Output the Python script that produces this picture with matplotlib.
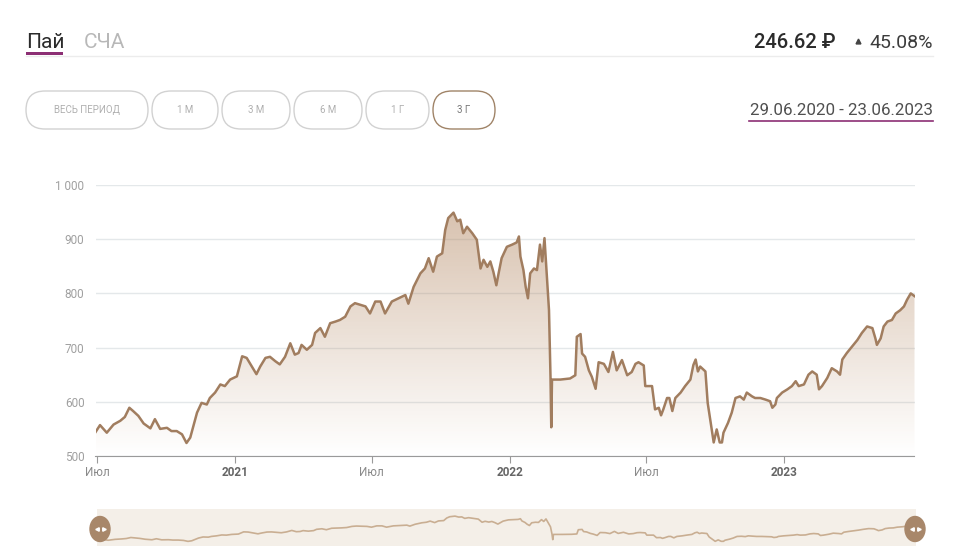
import numpy as np
import matplotlib.pyplot as plt
import matplotlib.dates as mdates
from matplotlib.patches import FancyBboxPatch, Ellipse, Rectangle, Polygon

plt.rcParams['font.family'] = ['Roboto', 'DejaVu Sans']

# data: days since 29.06.2020 and unit price
start = np.datetime64('2020-06-29')
days = [0, 6, 15, 24, 33, 39, 45, 50, 57, 64, 73, 79, 86, 95, 101, 108, 115, 121, 126,
        135, 141, 148, 152, 159, 166, 172, 179, 188, 195, 201, 208, 214, 219, 226, 232,
        239, 245, 252, 259, 265, 270, 274, 281, 288, 292, 299, 305, 312, 319, 325, 332,
        339, 345, 352, 359, 365, 372, 379, 385, 394, 403, 412, 416, 423, 432, 438, 443,
        449, 454, 461, 465, 469, 476, 481, 485, 489, 494, 501, 507, 512, 516, 521, 525,
        529, 533, 536, 540, 547, 554, 560, 563, 565, 569, 572, 575, 578, 583, 587, 591,
        594, 597, 600, 602, 603, 605, 606, 607, 618, 631, 638, 640, 645, 647, 651, 656,
        660, 665, 669, 676, 682, 688, 693, 700, 707, 713, 718, 722, 729, 731, 740, 744,
        749, 752, 755, 760, 763, 767, 771, 778, 784, 791, 795, 798, 801, 804, 811, 814,
        818, 822, 826, 830, 833, 835, 841, 846, 851, 857, 862, 866, 873, 877, 884, 891,
        897, 900, 904, 906, 913, 920, 926, 931, 935, 942, 948, 953, 959, 962, 966, 973,
        979, 986, 990, 993, 999, 1006, 1013, 1019, 1026, 1033, 1037, 1039, 1044, 1048,
        1053, 1059, 1064, 1070, 1075, 1079, 1084, 1089]
values = [544, 557, 543, 558, 565, 572, 589, 583, 574, 560, 551, 568, 550, 552, 546, 546,
          540, 524, 534, 580, 598, 595, 607, 617, 632, 629, 641, 647, 684, 681, 665, 651,
          665, 681, 683, 675, 669, 683, 708, 687, 690, 705, 696, 705, 727, 736, 720, 745,
          748, 751, 757, 776, 782, 779, 776, 763, 785, 785, 763, 785, 791, 797, 781, 812,
          837, 846, 865, 840, 868, 874, 917, 939, 949, 933, 936, 911, 923, 911, 899, 846,
          862, 849, 859, 840, 815, 837, 865, 886, 890, 894, 905, 868, 843, 812, 791, 837,
          846, 843, 890, 859, 902, 837, 794, 769, 646, 553, 641, 641, 643, 649, 720, 725,
          689, 683, 658, 646, 624, 673, 670, 655, 692, 658, 677, 649, 655, 670, 673, 667,
          629, 629, 586, 589, 575, 586, 607, 607, 583, 607, 617, 629, 641, 668, 678, 656,
          665, 656, 598, 561, 525, 549, 525, 525, 543, 561, 580, 607, 610, 604, 617, 610,
          607, 607, 604, 601, 589, 595, 607, 617, 623, 629, 638, 629, 632, 650, 656, 650,
          623, 629, 644, 662, 656, 650, 678, 690, 702, 714, 727, 739, 736, 717, 705, 717,
          739, 748, 751, 763, 769, 776, 788, 800, 795]

tick_dates = ['2020-07-01', '2021-01-01', '2021-07-01', '2022-01-01', '2022-07-01', '2023-01-01']
tick_labels = ['Июл', '2021', 'Июл', '2022', 'Июл', '2023']
y_ticks = [500, 600, 700, 800, 900, 1000]
y_labels = ['500', '600', '700', '800', '900', '1 000']
buttons = ['ВЕСЬ ПЕРИОД', '1 М', '3 М', '6 М', '1 Г', '3 Г']

dates = start + np.array(days).astype('timedelta64[D]')
xs = mdates.date2num(dates)
W, H = 973, 558
line_col = '#a17d5f'

fig = plt.figure(figsize=(W / 100, H / 100), dpi=100)

# main chart
ax = fig.add_axes([95.5 / W, 1 - 456 / H, 819 / W, 271 / H])
ax.set_xlim(xs[0], xs[-1])
ax.set_ylim(500, 1000)
ax.plot(xs, values, color=line_col, lw=1.8, zorder=3, solid_joinstyle='round')

# gradient fill under the line
grad = np.zeros((256, 2, 4))
base = np.array([0.72, 0.56, 0.42])
a = np.linspace(0.55, 0.0, 256)[:, None]
grad[:, :, :3] = base
grad[:, :, 3] = a
img = ax.imshow(grad, extent=[xs[0], xs[-1], 500, 960], origin='upper',
                aspect='auto', zorder=2, interpolation='bilinear')
poly = Polygon(np.column_stack([np.r_[xs[0], xs, xs[-1]], np.r_[500, values, 500]]),
               closed=True, facecolor='none', edgecolor='none')
ax.add_patch(poly)
img.set_clip_path(poly)

ax.set_yticks(y_ticks)
ax.set_yticklabels(y_labels)
ax.grid(axis='y', color='#e4e8ea', lw=1)
ax.tick_params(axis='y', length=0, pad=8, labelsize=8.5, labelcolor='#a0a0a0')
xt = mdates.date2num(np.array(tick_dates, dtype='datetime64[D]'))
ax.set_xticks(xt)
ax.set_xticklabels(tick_labels)
for lab, t in zip(ax.get_xticklabels(), tick_labels):
    if t.isdigit():
        lab.set_fontweight('bold')
        lab.set_color('#666666')
    else:
        lab.set_color('#8a8a8a')
ax.tick_params(axis='x', length=5, color='#9a9a9a', labelsize=8.5, pad=2)
for s in ['top', 'right', 'left']:
    ax.spines[s].set_visible(False)
ax.spines['bottom'].set_color('#9a9a9a')
ax.set_axisbelow(True)

# navigator
nav = fig.add_axes([97 / W, 1 - 546 / H, 819 / W, 37 / H])
nav.set_facecolor('#f4efe8')
nav.plot(xs, values, color='#c9ae92', lw=1.2)
nav.set_xlim(xs[0], xs[-1])
nav.set_ylim(446, 1069)
nav.set_xticks([])
nav.set_yticks([])
for s in nav.spines.values():
    s.set_visible(False)

# overlay for header, buttons and handles (pixel coordinates)
ov = fig.add_axes([0, 0, 1, 1])
ov.set_xlim(0, W)
ov.set_ylim(H, 0)
ov.axis('off')

ov.text(26, 48, 'Пай', fontsize=15, color='#2b2b2b', va='baseline')
ov.text(84, 48, 'СЧА', fontsize=15, color='#b8b8b8', va='baseline')
ov.add_patch(Rectangle((26, 52), 37, 2.5, color='#8c2f74', lw=0))
ov.plot([26, 933], [55.5, 55.5], color='#ececec', lw=1)
ov.text(836, 48, '246.62 ₽', fontsize=14.5, fontweight='medium', color='#2b2b2b',
        ha='right', va='baseline')
ov.plot([858], [41], marker='^', ms=3.5, color='#444444')
ov.text(933, 48, '45.08%', fontsize=14, color='#3c3c3c', ha='right', va='baseline')

bx = [(26, 148), (152, 218), (222, 290), (294, 362), (366, 429), (433, 495)]
for i, (lab, (x0, x1)) in enumerate(zip(buttons, bx)):
    active = i == len(buttons) - 1
    ov.add_patch(FancyBboxPatch((x0, 91), x1 - x0, 38,
                                boxstyle='round,pad=0,rounding_size=19',
                                facecolor='white',
                                edgecolor='#a08468' if active else '#d2d2d2', lw=1))
    ov.text((x0 + x1) / 2, 110, lab, fontsize=7, ha='center', va='center',
            color='#777777' if active else '#b0b0b0')

ov.text(933, 115, '29.06.2020 - 23.06.2023', fontsize=12.2, color='#505050',
        ha='right', va='baseline')
ov.plot([749, 933], [121, 121], color='#8c2f74', lw=1.2)

for hx in [100, 915]:
    ov.add_patch(Ellipse((hx, 529), 20, 25, color='#a8876a'))
    ov.plot([hx - 3.5], [529], marker='<', ms=2.5, color='white')
    ov.plot([hx + 3.5], [529], marker='>', ms=2.5, color='white')

fig.savefig('out.png', dpi=100)
